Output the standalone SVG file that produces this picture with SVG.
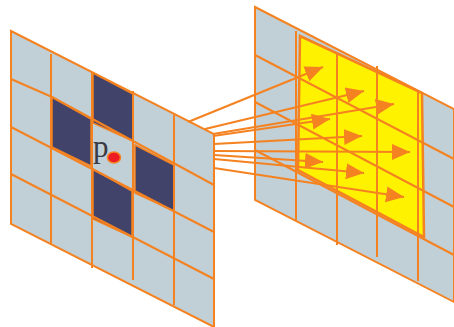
<svg xmlns="http://www.w3.org/2000/svg" width="454" height="327" viewBox="0 0 454 327">
<style>
.panel{fill:#c1cfd6;stroke:#f58220;stroke-width:2}
.grid line,.grid polyline{stroke:#f58220;stroke-width:2;fill:none}
.dark{fill:#42436b;stroke:#f58220;stroke-width:1.5}
.arrow{stroke:#f58220;stroke-width:2;fill:none;marker-end:url(#head)}
</style>
<defs>
<marker id="head" markerUnits="userSpaceOnUse" markerWidth="20" markerHeight="18" refX="18" refY="8" orient="auto"><path d="M0 0L18 8L0 16Z" fill="#f58220"/></marker>
</defs>
<g id="left-panel">
<polygon class="panel" points="11,31 214,134 214,327 11,224"/>
<polygon class="dark" points="93,73 133,94 133,141 93,123"/>
<polygon class="dark" points="52,97 91,119 91,166 52,147"/>
<polygon class="dark" points="135,145 174,165 174,211 135,193"/>
<polygon class="dark" points="93,169 132,191 132,237 93,219"/>
<g class="grid">
<polyline points="11,79 52,97 214,185"/><line x1="11" y1="127" x2="214" y2="232"/><line x1="11" y1="174" x2="214" y2="279"/>
<line x1="51" y1="54" x2="51" y2="244"/><line x1="92" y1="72" x2="92" y2="268"/><line x1="133" y1="91" x2="133" y2="280"/><line x1="174" y1="115" x2="174" y2="305"/>
</g>
<text x="93" y="157" font-family="'Liberation Serif',serif" font-size="31" fill="#3a3a44">p</text>
<ellipse cx="114" cy="157.500" rx="6.500" ry="5.500" fill="#ed1c24" stroke="#f58220" stroke-width="1.500"/>
</g>
<g id="right-panel">
<polygon class="panel" points="255,7 454,109 454,302 255,200"/>
<polygon points="300,36 422,93 424,237 298,170" fill="#fff200" stroke="#f58220" stroke-width="2.500"/>
<g class="grid">
<line x1="255" y1="55" x2="454" y2="159"/><line x1="255" y1="102" x2="454" y2="207"/><line x1="255" y1="150" x2="454" y2="255"/>
<line x1="296" y1="31" x2="296" y2="220"/><line x1="337" y1="53" x2="337" y2="245"/><line x1="377" y1="66" x2="377" y2="257"/><line x1="418" y1="90" x2="418" y2="281"/>
</g>
</g>
<g id="connectors">
<line class="arrow" x1="188" y1="122" x2="323" y2="67"/>
<line class="arrow" x1="205" y1="129" x2="364" y2="91"/>
<line class="arrow" x1="213" y1="134" x2="394" y2="104"/>
<line class="arrow" x1="213" y1="136" x2="330" y2="119"/>
<line class="arrow" x1="214" y1="144" x2="362" y2="136"/>
<line class="arrow" x1="214" y1="151" x2="410" y2="152"/>
<line class="arrow" x1="214" y1="155" x2="323" y2="162"/>
<line class="arrow" x1="214" y1="159" x2="364" y2="173"/>
<line class="arrow" x1="214" y1="168" x2="404" y2="197"/>
</g>
</svg>
